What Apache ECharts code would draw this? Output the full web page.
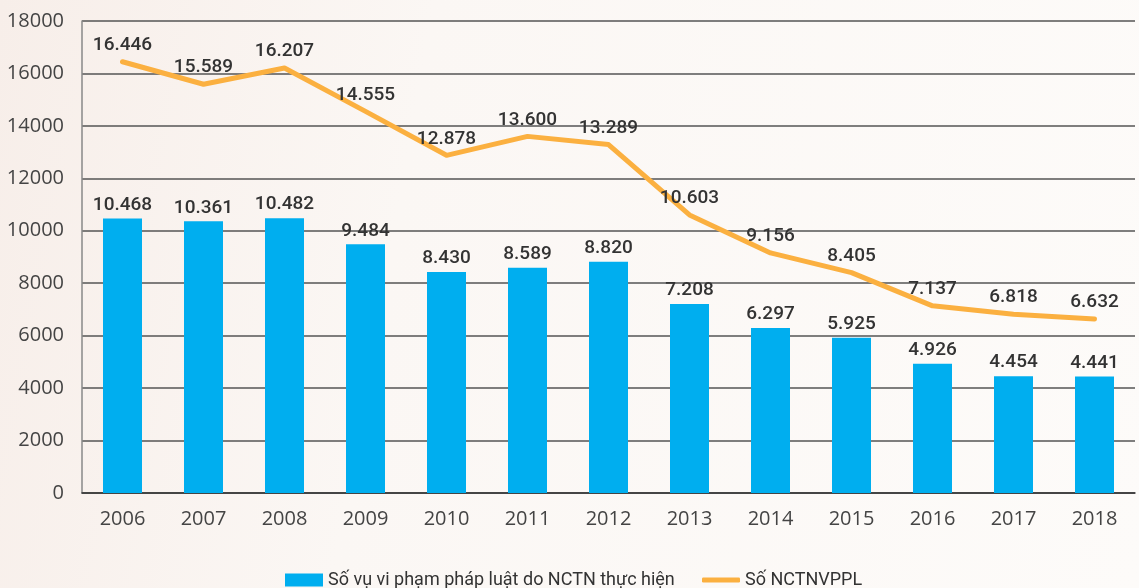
<!DOCTYPE html>
<html>
<head>
<meta charset="utf-8">
<script src="https://cdn.jsdelivr.net/npm/echarts@6/dist/echarts.min.js"></script>
<style>
html,body{margin:0;padding:0;}
body{background:linear-gradient(100deg,#f7eee9 0%,#fbf7f4 35%,#fdfbf9 100%);}
#c{width:1139px;height:588px;}
</style>
</head>
<body>
<div id="c"></div>
<script>
const categories = ['2006','2007','2008','2009','2010','2011','2012','2013','2014','2015','2016','2017','2018'];
const violations = [10468,10361,10482,9484,8430,8589,8820,7208,6297,5925,4926,4454,4441];
const offenders = [16446,15589,16207,14555,12878,13600,13289,10603,9156,8405,7137,6818,6632];
const yTicks = {min:0, max:18000, interval:2000};
const seriesNames = ['Số vụ vi phạm pháp luật do NCTN thực hiện','Số NCTNVPPL'];

const fmt = v => {
  const s = String(v);
  return s.length > 3 ? s.slice(0, s.length-3) + '.' + s.slice(-3) : s;
};
const labelFont = "Roboto,'Noto Sans',sans-serif";
const axisFont = "'Open Sans','Noto Sans',sans-serif";

const chart = echarts.init(document.getElementById('c'), null, {renderer:'canvas'});
chart.setOption({
  backgroundColor: 'transparent',
  animation: false,
  grid: {left:82, right:4, top:21, bottom:95, containLabel:false},
  legend: [
    {
      top: 566, left: 280,
      itemWidth: 38, itemHeight: 13, itemGap: 10,
      textStyle: {fontFamily: labelFont, fontSize: 18, color:'#333'},
      data: [{name: seriesNames[0], icon:'rect'}]
    },
    {
      top: 566, left: 697,
      itemWidth: 38, itemHeight: 5, itemGap: 10,
      textStyle: {fontFamily: labelFont, fontSize: 18, color:'#333'},
      data: [{name: seriesNames[1], icon:'roundRect'}]
    }
  ],
  xAxis: {
    type:'category', data: categories,
    axisLine:{show:true, lineStyle:{color:'#333', width:1.5}},
    axisTick:{show:false},
    axisLabel:{fontFamily: axisFont, fontSize:20, color:'#444', margin:16}
  },
  yAxis: {
    type:'value', min:yTicks.min, max:yTicks.max, interval:yTicks.interval,
    axisLine:{show:true, lineStyle:{color:'#888', width:1.5}},
    axisTick:{show:false},
    axisLabel:{fontFamily: axisFont, fontSize:20, color:'#444', margin:18, formatter: v => String(v)},
    splitLine:{show:true, lineStyle:{color:'#555', width:1.5}}
  },
  series: [
    {
      name: seriesNames[0], type:'bar', data: violations,
      barWidth: 39,
      itemStyle:{color:'#00aeef'},
      label:{show:true, position:'top', distance:4, formatter: p => fmt(p.value),
        fontFamily: labelFont, fontSize:19, fontWeight:500, color:'#333'}
    },
    {
      name: seriesNames[1], type:'line', data: offenders,
      symbol:'circle', symbolSize:2, showSymbol:true, smooth:false,
      lineStyle:{color:'#fbb040', width:5, cap:'round', join:'round'},
      itemStyle:{color:'#fbb040'},
      label:{show:true, position:'top', distance:6, formatter: p => fmt(p.value),
        fontFamily: labelFont, fontSize:19, fontWeight:500, color:'#333'}
    }
  ]
});
</script>
</body>
</html>
